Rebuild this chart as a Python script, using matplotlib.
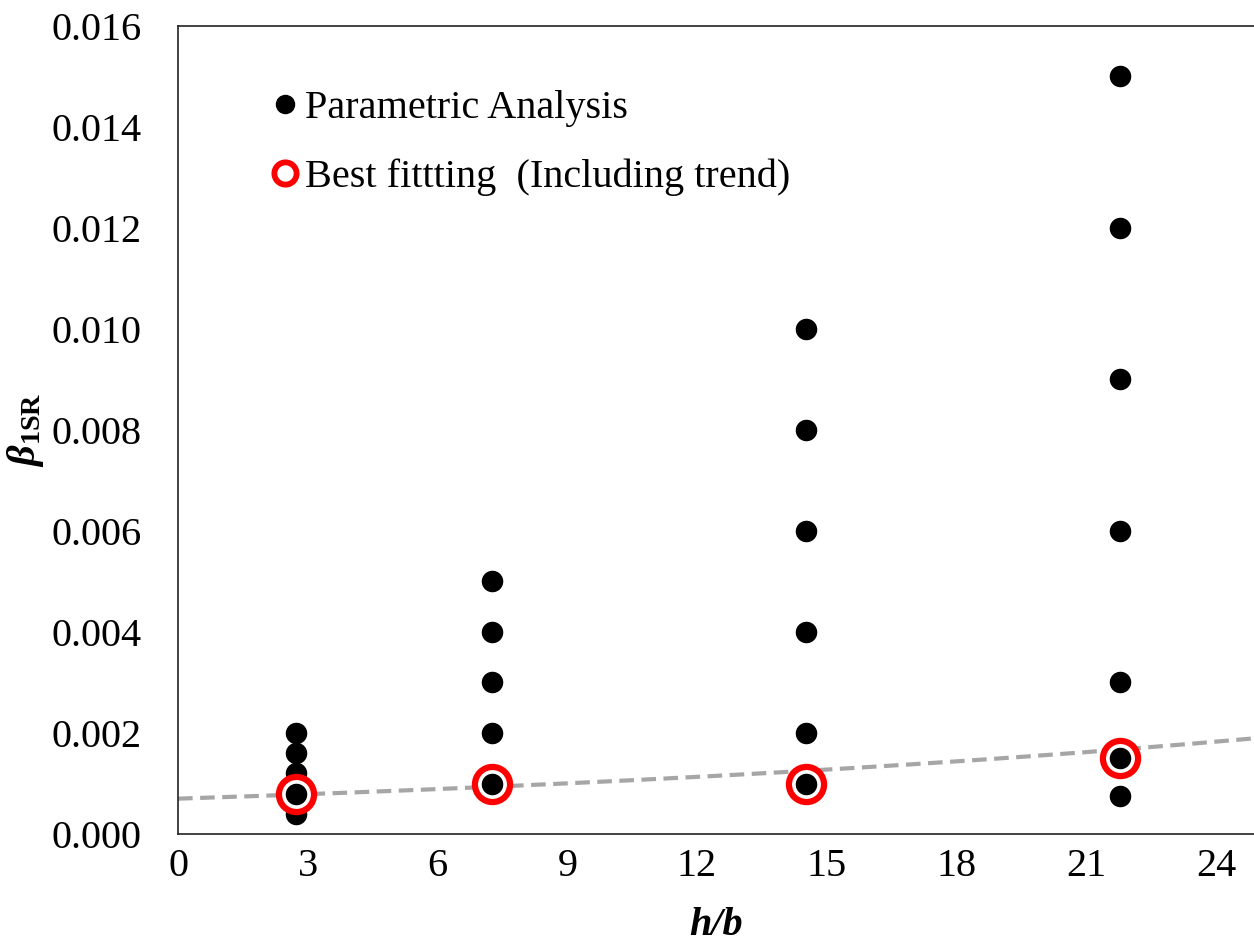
import numpy as np
import matplotlib
matplotlib.use('Agg')
import matplotlib.pyplot as plt
from matplotlib.lines import Line2D

plt.rcParams['font.family'] = ['Liberation Serif', 'DejaVu Serif']
plt.rcParams['mathtext.fontset'] = 'custom'
plt.rcParams['mathtext.rm'] = 'Liberation Serif'
plt.rcParams['mathtext.it'] = 'Liberation Serif:italic'
plt.rcParams['mathtext.bf'] = 'Liberation Serif:bold'
plt.rcParams['mathtext.bfit'] = 'Liberation Serif:bold:italic'

# parametric analysis points (h/b, beta_1SR)
param_x = [2.73] * 5 + [7.26] * 5 + [14.52] * 6 + [21.78] * 7
param_y = [0.0020, 0.0016, 0.0012, 0.0008, 0.0004,
           0.0050, 0.0040, 0.0030, 0.0020, 0.0010,
           0.0100, 0.0080, 0.0060, 0.0040, 0.0020, 0.0010,
           0.0150, 0.0120, 0.0090, 0.0060, 0.0030, 0.0015, 0.00075]

# best fitting values
best_x = [2.73, 7.26, 14.52, 21.78]
best_y = [0.0008, 0.0010, 0.0010, 0.0015]

# trend line beta = a * exp(b * h/b)
trend_a = 0.0007
trend_b = 0.04

fig = plt.figure(figsize=(12.54, 9.51), dpi=100)
ax = fig.add_axes([0.142, 0.123, 0.858, 0.850])

xx = np.linspace(0, 25, 200)
ax.plot(xx, trend_a * np.exp(trend_b * xx), color='#A6A6A6', lw=3,
        linestyle=(0, (3.5, 1.8)), zorder=1)

ax.scatter(param_x, param_y, s=210, color='black', zorder=2)
ax.scatter(best_x, best_y, s=640, facecolor='white', edgecolor='red',
           linewidths=4.5, zorder=3)
ax.scatter(best_x, best_y, s=210, color='black', zorder=4)

ax.set_xlim(0, 24.88)
ax.set_ylim(0, 0.016)
ax.set_xticks(range(0, 25, 3))
ax.set_yticks(np.arange(0, 0.0161, 0.002))
ax.set_yticklabels([f'{v:.3f}' for v in np.arange(0, 0.0161, 0.002)])
ax.tick_params(axis='both', length=0, labelsize=29)
ax.tick_params(axis='y', pad=26)
ax.tick_params(axis='x', pad=10)

for s in ax.spines.values():
    s.set_linewidth(1.2)
    s.set_color('#222222')
ax.spines['right'].set_visible(False)

ax.set_xlabel('h/b', fontsize=29, fontweight='bold', fontstyle='italic', labelpad=16)
ax.set_ylabel(r'$\boldsymbol{\beta}_{\mathbf{1SR}}$', fontsize=29, labelpad=4)

handles = [
    Line2D([], [], marker='o', color='black', linestyle='none', markersize=13),
    Line2D([], [], marker='o', markerfacecolor='white', markeredgecolor='red',
           markeredgewidth=4.2, linestyle='none', markersize=16),
]
ax.legend(handles, ['Parametric Analysis', 'Best fittting  (Including trend)'],
          loc='upper left', bbox_to_anchor=(0.066, 0.94), frameon=False,
          fontsize=29, handletextpad=0.0, handlelength=1.0, labelspacing=0.78,
          borderaxespad=0)

fig.savefig('out.png', dpi=100)
